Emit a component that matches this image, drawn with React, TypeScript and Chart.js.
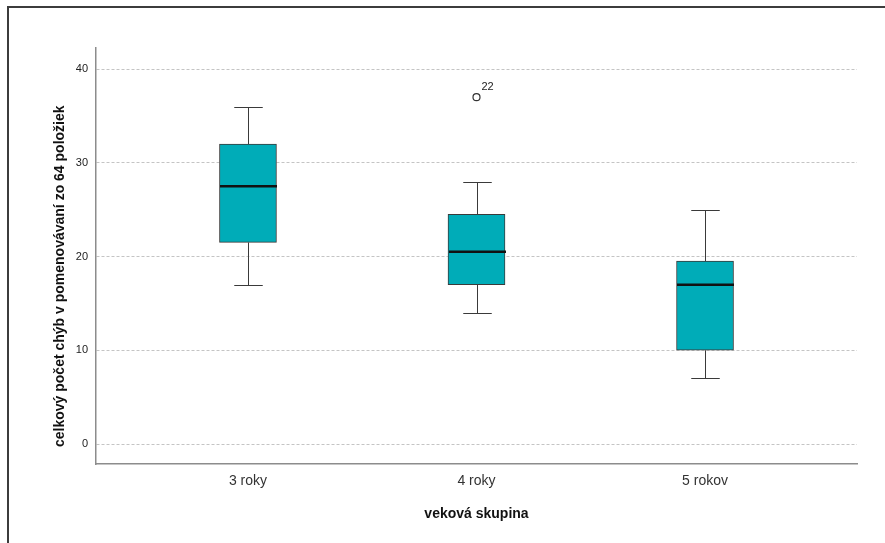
import React, { useEffect, useRef } from 'react';
import { Chart, registerables } from 'chart.js';

Chart.register(...registerables);

const categories = ['3 roky', '4 roky', '5 rokov'];
const whiskerLow = [17, 14, 7];
const quartile1 = [21.5, 17, 10];
const medians = [27.5, 20.5, 17];
const quartile3 = [32, 24.5, 19.5];
const whiskerHigh = [36, 28, 25];
const outlierCategoryIndex = [1];
const outlierValues = [37];
const outlierLabels = ['22'];
const yTickValues = [0, 10, 20, 30, 40];

const xTitle = 'veková skupina';
const yTitle = 'celkový počet chýb v pomenovávaní zo 64 položiek';

const FONT = 'Arial, "Liberation Sans", sans-serif';

const boxPlugin = {
  id: 'boxWhiskers',
  afterDatasetsDraw(chart: any) {
    const { ctx, scales } = chart;
    const x = scales.x;
    const y = scales.y;
    const meta = chart.getDatasetMeta(0);
    ctx.save();
    categories.forEach((_, i) => {
      const bar = meta.data[i];
      const cx = Math.round(x.getPixelForValue(i + 1)) + 0.5;
      const w = bar ? bar.width : 57;
      const capHalf = w / 4;
      const yLow = Math.round(y.getPixelForValue(whiskerLow[i])) + 0.5;
      const yQ1 = y.getPixelForValue(quartile1[i]);
      const yQ3 = y.getPixelForValue(quartile3[i]);
      const yHigh = Math.round(y.getPixelForValue(whiskerHigh[i])) + 0.5;
      const yMed = y.getPixelForValue(medians[i]);
      ctx.strokeStyle = '#3a3a3a';
      ctx.lineWidth = 1;
      ctx.beginPath();
      ctx.moveTo(cx, yQ3);
      ctx.lineTo(cx, yHigh);
      ctx.moveTo(cx, yQ1);
      ctx.lineTo(cx, yLow);
      ctx.moveTo(cx - capHalf, yHigh);
      ctx.lineTo(cx + capHalf, yHigh);
      ctx.moveTo(cx - capHalf, yLow);
      ctx.lineTo(cx + capHalf, yLow);
      ctx.stroke();
      ctx.strokeStyle = '#111';
      ctx.lineWidth = 2.5;
      ctx.beginPath();
      ctx.moveTo(cx - w / 2, yMed);
      ctx.lineTo(cx + w / 2, yMed);
      ctx.stroke();
    });
    // outlier labels
    ctx.fillStyle = '#222';
    ctx.font = '11px ' + FONT;
    ctx.textAlign = 'left';
    ctx.textBaseline = 'middle';
    outlierValues.forEach((v, j) => {
      const px = x.getPixelForValue(outlierCategoryIndex[j] + 1);
      const py = y.getPixelForValue(v);
      ctx.fillText(outlierLabels[j], px + 5, py - 10);
    });
    // y axis title
    const area = chart.chartArea;
    ctx.font = 'bold 14px ' + FONT;
    ctx.fillStyle = '#111';
    ctx.textAlign = 'center';
    ctx.textBaseline = 'middle';
    const tw = ctx.measureText(yTitle).width;
    ctx.translate(60, area.bottom - 17 - tw / 2);
    ctx.rotate(-Math.PI / 2);
    ctx.fillText(yTitle, 0, 0);
    ctx.restore();
  },
};

export default function App() {
  const canvasRef = useRef<HTMLCanvasElement | null>(null);

  useEffect(() => {
    if (!canvasRef.current) return;
    const chart = new Chart(canvasRef.current, {
      type: 'bar',
      data: {
        datasets: [
          {
            type: 'bar',
            data: categories.map((_, i) => ({ x: i + 1, y: [quartile1[i], quartile3[i]] })) as any,
            backgroundColor: '#00acb8',
            borderColor: '#3a3a3a',
            borderWidth: 1,
            borderSkipped: false,
            barThickness: 57,
          } as any,
          {
            type: 'scatter',
            data: outlierValues.map((v, j) => ({ x: outlierCategoryIndex[j] + 1, y: v })),
            pointRadius: 3.5,
            pointBackgroundColor: '#ffffff',
            pointBorderColor: '#333',
            pointBorderWidth: 1.2,
          } as any,
        ],
      },
      options: {
        animation: false,
        responsive: false,
        maintainAspectRatio: false,
        layout: { padding: { left: 52, top: 48, right: 28, bottom: 20 } },
        plugins: {
          legend: { display: false },
          tooltip: { enabled: false },
        },
        scales: {
          x: {
            type: 'linear',
            min: 0.335,
            max: 3.665,
            offset: false,
            afterFit: (s: any) => {
              s.height = 59;
            },
            afterBuildTicks: (s: any) => {
              s.ticks = categories.map((_, i) => ({ value: i + 1 }));
            },
            grid: { display: false, drawTicks: false },
            border: { display: true, color: '#8c8c8c', width: 1.5 },
            ticks: {
              autoSkip: false,
              maxRotation: 0,
              padding: 9,
              color: '#333',
              font: { family: FONT, size: 14 },
              callback: (v: any) => categories[Number(v) - 1] ?? '',
            },
            title: {
              display: true,
              text: xTitle,
              color: '#111',
              padding: 0,
              font: { family: FONT, size: 14, weight: 'bold' },
            },
          },
          y: {
            type: 'linear',
            min: -2.13,
            max: 42.24,
            afterFit: (s: any) => {
              s.width = 44;
            },
            afterBuildTicks: (s: any) => {
              s.ticks = yTickValues.map((v) => ({ value: v }));
            },
            grid: { color: '#c4c4c4', lineWidth: 1, drawTicks: false },
            border: { display: true, color: '#8c8c8c', width: 1.5, dash: [3, 2] },
            ticks: {
              padding: 8,
              color: '#222',
              font: { family: FONT, size: 11 },
            },
          },
        },
      } as any,
      plugins: [boxPlugin],
    });
    return () => chart.destroy();
  }, []);

  return (
    <div style={{ position: 'absolute', left: 0, top: 0, width: 885, height: 543, overflow: 'hidden', background: '#fff' }}>
      <div
        style={{
          position: 'absolute',
          left: 7,
          top: 6,
          width: 900,
          height: 600,
          borderTop: '2px solid #3c3c3c',
          borderLeft: '2px solid #3c3c3c',
        }}
      />
      <canvas ref={canvasRef} width={885} height={543} style={{ position: 'absolute', left: 0, top: 0 }} />
    </div>
  );
}
